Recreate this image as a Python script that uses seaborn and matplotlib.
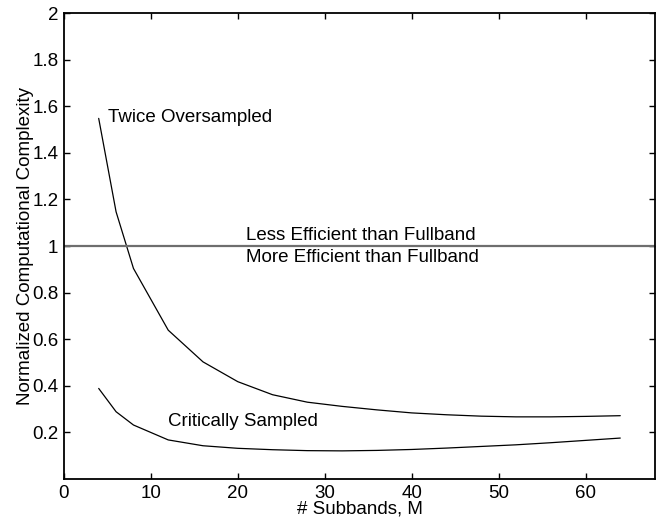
import pandas as pd
import seaborn as sns
import matplotlib.pyplot as plt

# Subband counts and normalized complexity
subbands = [4, 6, 8, 12, 16, 20, 24, 28, 32, 36, 40, 44, 48, 52, 56, 60, 64]
twice_oversampled = [1.548, 1.147, 0.904, 0.639, 0.503, 0.418, 0.362, 0.330, 0.312,
                     0.297, 0.284, 0.276, 0.270, 0.267, 0.267, 0.269, 0.272]
critically_sampled = [0.389, 0.289, 0.232, 0.168, 0.143, 0.132, 0.126, 0.122, 0.121,
                      0.123, 0.127, 0.133, 0.140, 0.147, 0.156, 0.166, 0.176]

y_ticks = [0.2, 0.4, 0.6, 0.8, 1.0, 1.2, 1.4, 1.6, 1.8, 2.0]
y_tick_labels = ["0.2", "0.4", "0.6", "0.8", "1", "1.2", "1.4", "1.6", "1.8", "2"]
x_ticks = [0, 10, 20, 30, 40, 50, 60]

df = pd.DataFrame({"M": subbands,
                   "twice": twice_oversampled,
                   "critical": critically_sampled})

sns.set_style("ticks")
plt.rcParams['font.family'] = ['Liberation Sans', 'DejaVu Sans']
plt.rcParams['font.size'] = 13.5
plt.rcParams['text.color'] = 'black'
plt.rcParams['axes.labelcolor'] = 'black'
plt.rcParams['xtick.color'] = 'black'
plt.rcParams['ytick.color'] = 'black'

fig = plt.figure(figsize=(6.59, 5.23), dpi=100)
ax = fig.add_axes([0.097, 0.084, 0.897, 0.891])

sns.lineplot(data=df, x="M", y="twice", color="black", linewidth=0.9, ax=ax)
sns.lineplot(data=df, x="M", y="critical", color="black", linewidth=0.9, ax=ax)

# fullband reference
ax.axhline(1.0, color="#6e6e6e", linewidth=1.6)

fs = 13.5
ax.text(5.1, 1.553, "Twice Oversampled", va="center", fontsize=fs)
ax.text(12.0, 0.245, "Critically Sampled", va="center", fontsize=fs)
ax.text(21.0, 1.047, "Less Efficient than Fullband", va="center", fontsize=fs)
ax.text(21.0, 0.952, "More Efficient than Fullband", va="center", fontsize=fs)

ax.set_xlim(0, 68)
ax.set_ylim(0, 2)
ax.set_xticks(x_ticks)
ax.set_yticks(y_ticks)
ax.set_yticklabels(y_tick_labels)
ax.tick_params(direction="in", top=True, right=True, length=4, width=1,
               labelsize=fs, pad=4)
for s in ax.spines.values():
    s.set_linewidth(1.3)
    s.set_color("black")

ax.set_xlabel("# Subbands, M", fontsize=fs, labelpad=-1)
ax.set_ylabel("Normalized Computational Complexity", fontsize=fs, labelpad=-1)

fig.savefig("out.png", dpi=100)
